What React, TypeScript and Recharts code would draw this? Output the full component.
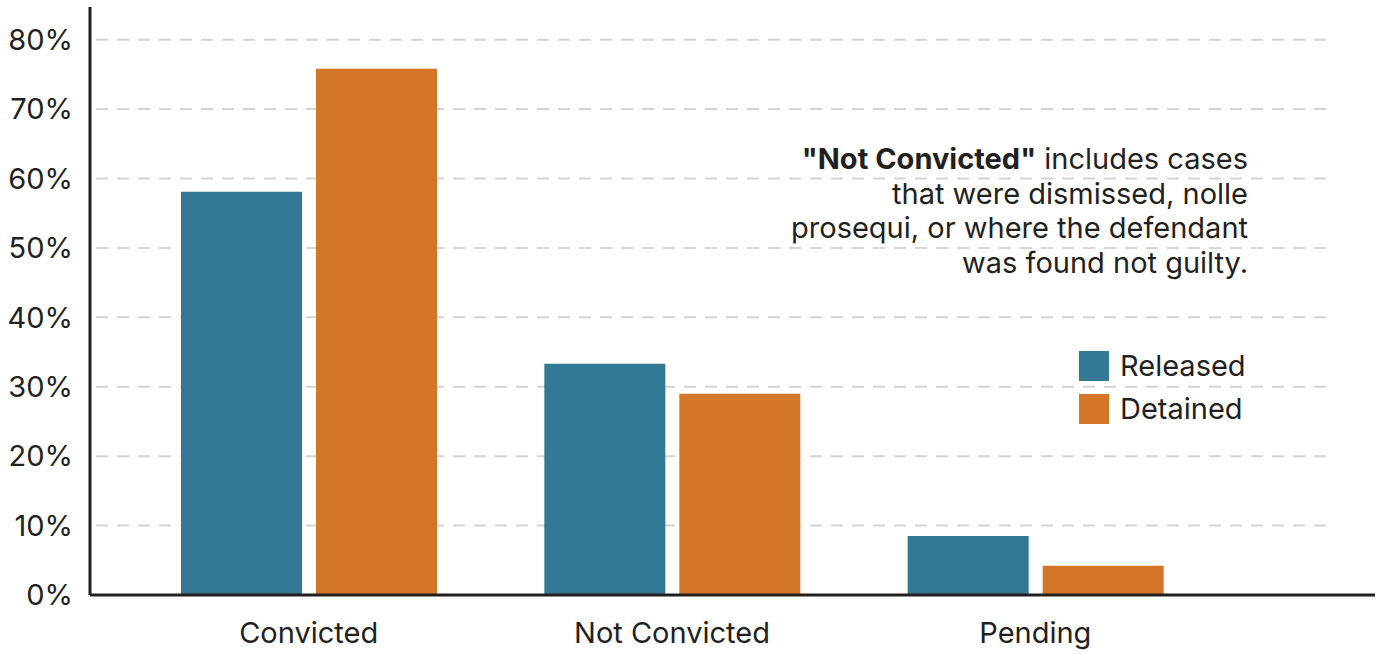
import { BarChart, Bar, XAxis, YAxis, CartesianGrid } from 'recharts'

const categories = ['Convicted', 'Not Convicted', 'Pending']
const released = [0.581, 0.333, 0.085]
const detained = [0.758, 0.29, 0.042]
const yTicks = [0, 0.1, 0.2, 0.3, 0.4, 0.5, 0.6, 0.7, 0.8]
const seriesNames = ['Released', 'Detained']

const BLUE = '#337895'
const ORANGE = '#d37627'
const INK = '#231f20'
const FONT = 'Inter, "Noto Sans", sans-serif'

const data = categories.map((name, i) => ({
  name,
  released: released[i],
  detained: detained[i],
}))

// gridlines in the original stop short of both ends of the plot
function GridLine(props: any) {
  const { x1, x2, y1, y2 } = props
  return (
    <line
      x1={x1 + 6}
      x2={x2 - 40}
      y1={y1}
      y2={y2}
      stroke="#d4d4d4"
      strokeWidth={2}
      strokeDasharray="12 9"
    />
  )
}

function LegendBox() {
  const colors = [BLUE, ORANGE]
  return (
    <div style={{ position: 'absolute', left: 1079, top: 344, fontFamily: FONT }}>
      {seriesNames.map((n, i) => (
        <div key={n} style={{ display: 'flex', alignItems: 'center', height: 43 }}>
          <span style={{ width: 30, height: 30, background: colors[i], marginRight: 11 }} />
          <span style={{ fontSize: 29, color: INK }}>{n}</span>
        </div>
      ))}
    </div>
  )
}

export default function App() {
  return (
    <div style={{ position: 'absolute', left: 0, top: 0, width: 1379, height: 654 }}>
      <BarChart
        width={1379}
        height={654}
        data={data}
        margin={{ top: 7, right: 4, bottom: 0, left: 0 }}
        barSize={121}
        barGap={14}
      >
        <CartesianGrid
          horizontal={GridLine}
          vertical={false}
          horizontalValues={yTicks}
        />
        <XAxis
          dataKey="name"
          padding={{ left: 37, right: 158 }}
          axisLine={{ stroke: INK, strokeWidth: 3 }}
          tickLine={false}
          tickSize={0}
          tickMargin={27}
          height={59}
          tick={{ fontSize: 29, fill: INK, fontFamily: FONT }}
        />
        <YAxis
          domain={[0, 0.847]}
          ticks={yTicks}
          allowDataOverflow
          tickFormatter={(v: number) => `${Math.round(v * 100)}%`}
          axisLine={{ stroke: INK, strokeWidth: 3 }}
          tickLine={false}
          tickSize={0}
          tickMargin={17}
          width={90}
          tick={{ fontSize: 29, fill: INK, fontFamily: FONT }}
        />
        <Bar dataKey="released" name="Released" fill={BLUE} isAnimationActive={false} />
        <Bar dataKey="detained" name="Detained" fill={ORANGE} isAnimationActive={false} />
      </BarChart>
      <LegendBox />
      <div
        style={{
          position: 'absolute',
          right: 1379 - 1248,
          top: 142,
          width: 560,
          textAlign: 'right',
          fontFamily: FONT,
          fontSize: 29,
          lineHeight: '34.5px',
          color: INK,
        }}
      >
        <b>"Not Convicted"</b> includes cases
        <br />
        that were dismissed, nolle
        <br />
        prosequi, or where the defendant
        <br />
        was found not guilty.
      </div>
    </div>
  )
}
